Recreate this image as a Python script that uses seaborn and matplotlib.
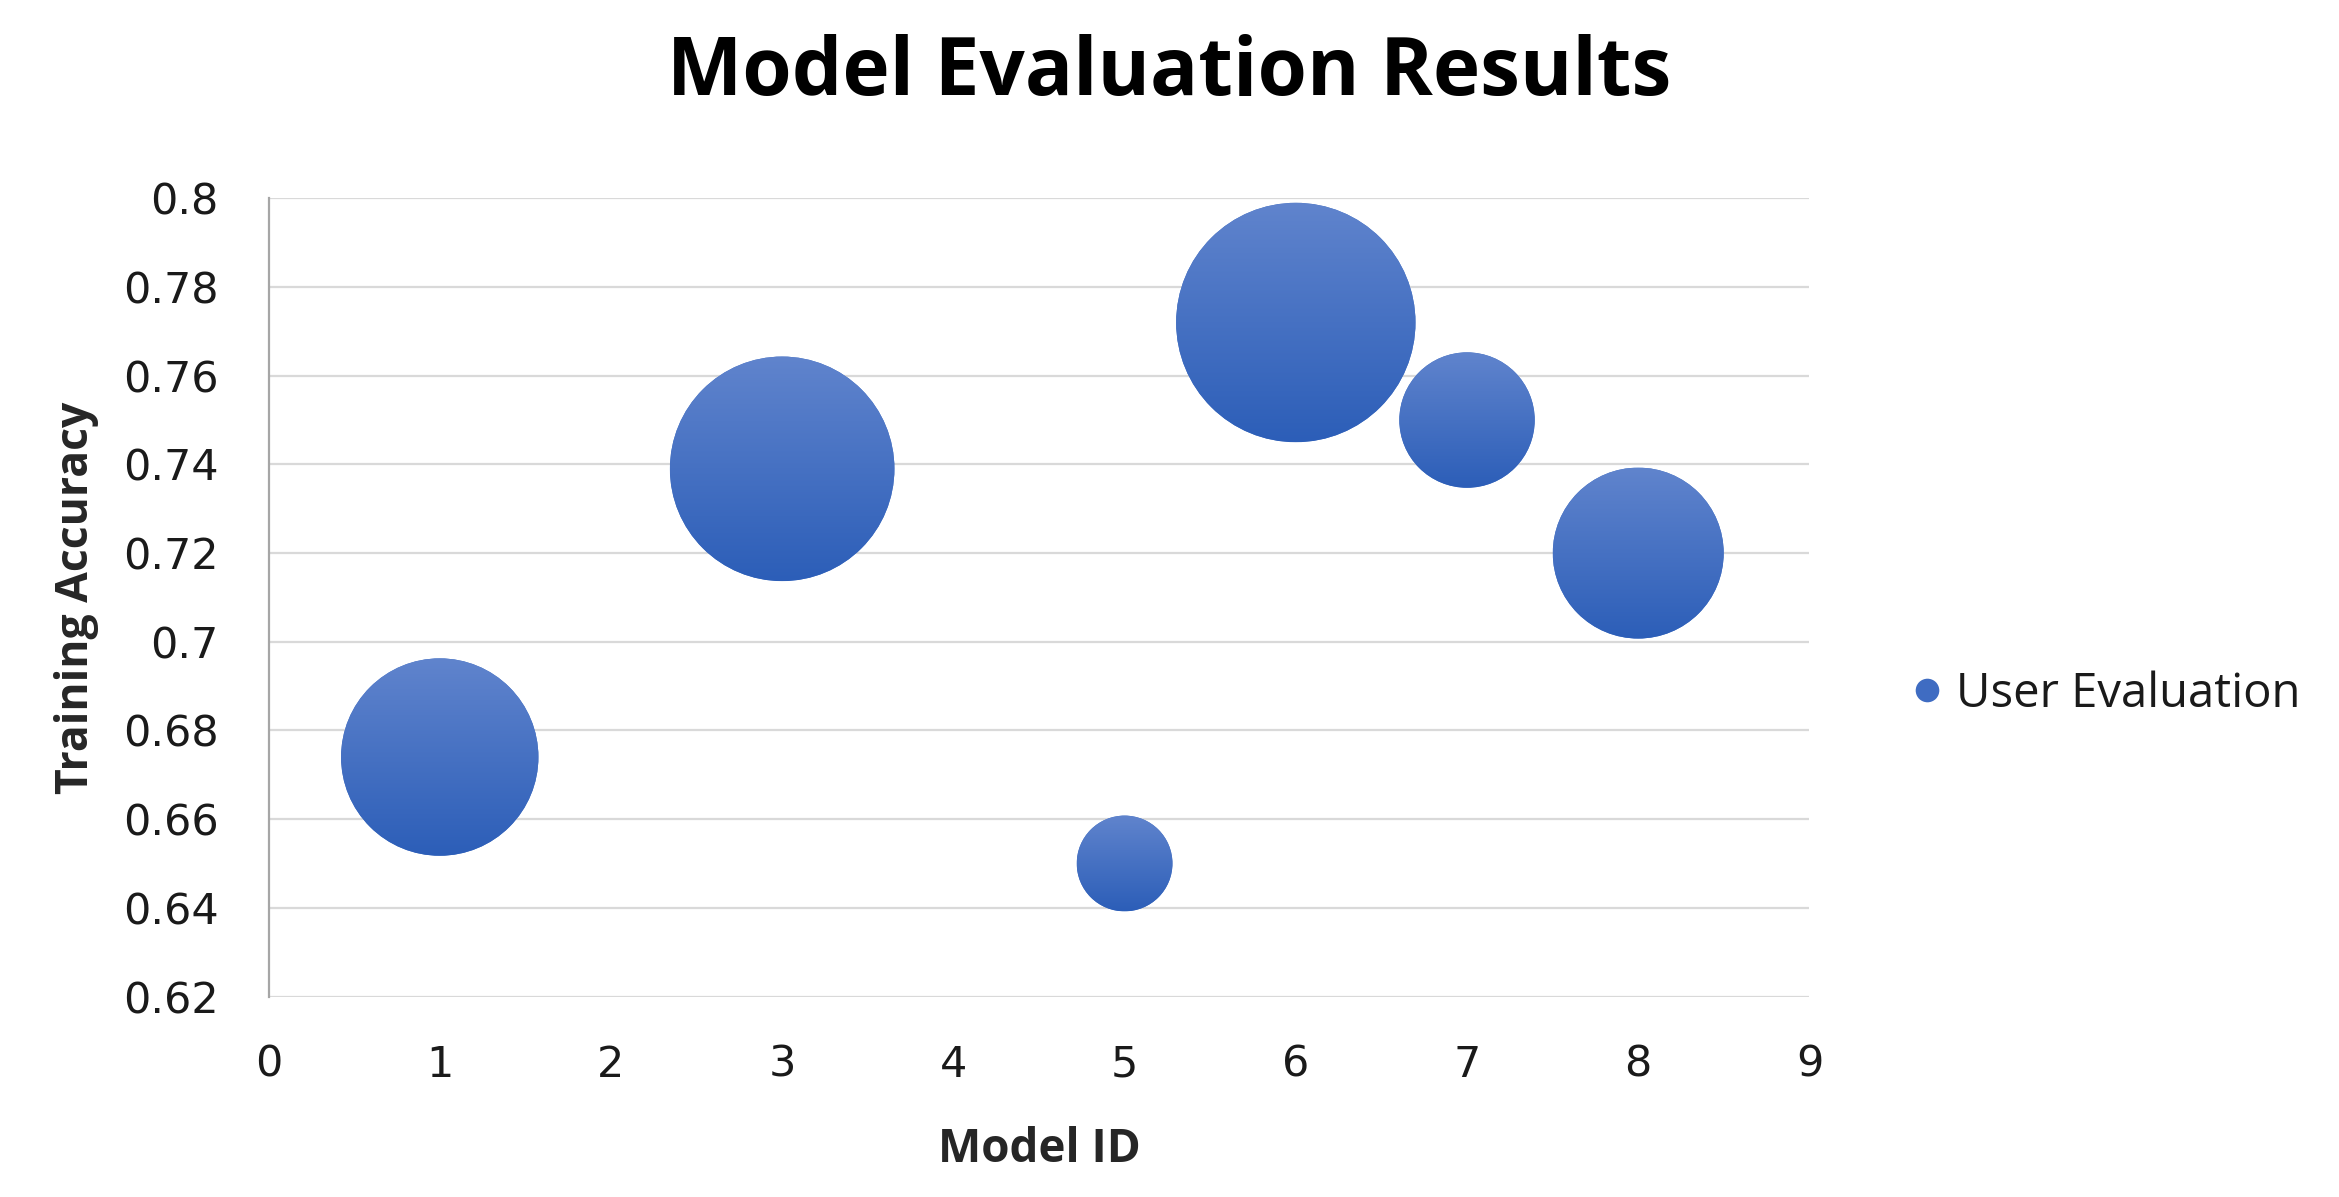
import numpy as np
import pandas as pd
import matplotlib
matplotlib.use("Agg")
import matplotlib.pyplot as plt
import seaborn as sns
from matplotlib.patches import Circle
from matplotlib.transforms import IdentityTransform
from matplotlib.lines import Line2D

# ---- data ----
model_id = [1, 3, 5, 6, 7, 8]
training_accuracy = [0.674, 0.739, 0.650, 0.772, 0.750, 0.720]
user_evaluation = [68, 88, 16, 100, 32, 51]   # bubble size (area)
x_ticks = [0, 1, 2, 3, 4, 5, 6, 7, 8, 9]
y_ticks = [0.62, 0.64, 0.66, 0.68, 0.70, 0.72, 0.74, 0.76, 0.78, 0.80]
y_tick_labels = ["0.62", "0.64", "0.66", "0.68", "0.7", "0.72", "0.74", "0.76", "0.78", "0.8"]

df = pd.DataFrame({"Model ID": model_id, "Training Accuracy": training_accuracy,
                   "User Evaluation": user_evaluation})

sns.set_theme(style="white")
plt.rcParams['font.family'] = ['DejaVu Sans']

DPI = 100
fig = plt.figure(figsize=(23.39, 11.97), dpi=DPI)
ax = fig.add_axes([0.1148, 0.1675, 0.7736 - 0.1148, 0.8343 - 0.1675])

MAX_AREA = 29700
sns.scatterplot(data=df, x="Model ID", y="Training Accuracy", size="User Evaluation",
                sizes=(0, MAX_AREA), size_norm=(0, 100), color="#4472C4",
                edgecolor="none", linewidth=0, legend=False, ax=ax, zorder=3)

ax.set_xlim(0, 9)
ax.set_ylim(0.62, 0.80)
ax.set_xticks(x_ticks)
ax.set_yticks(y_ticks)
ax.set_yticklabels(y_tick_labels)
ax.tick_params(axis='both', length=0, labelsize=31, labelcolor="#1a1a1a")
ax.tick_params(axis='y', pad=36)
ax.tick_params(axis='x', pad=34)
for lab in ax.get_xticklabels() + ax.get_yticklabels():
    lab.set_family("DejaVu Sans")
ax.yaxis.grid(True, color="#D9D9D9", linewidth=1.6, zorder=0)
ax.xaxis.grid(False)
for s in ["top", "right", "bottom"]:
    ax.spines[s].set_visible(False)
ax.spines["left"].set_color("#A6A6A6")
ax.spines["left"].set_linewidth(1.6)
ax.set_axisbelow(True)

ax.set_xlabel("Model ID", fontsize=33, fontweight="bold", family="Open Sans",
              color="#262626", labelpad=29)
ax.set_ylabel("Training Accuracy", fontsize=32, fontweight="bold", family="Open Sans",
              color="#262626", labelpad=17)
fig.suptitle("Model Evaluation Results", fontsize=57.5, fontweight="bold",
             family="Open Sans", color="black", y=0.972)

# gradient overlay on each bubble
fig.canvas.draw()
coll = ax.collections[0]
areas = coll.get_sizes()
grad = np.linspace(0, 1, 256).reshape(-1, 1)
top = np.array([0x60, 0x84, 0xCD]) / 255
bot = np.array([0x2C, 0x5E, 0xB8]) / 255
img = top[None, None, :] * (1 - grad[:, :, None]) + bot[None, None, :] * grad[:, :, None]
inv = ax.transData.inverted()
for xv, yv, a in zip(df["Model ID"], df["Training Accuracy"], areas):
    cx, cy = ax.transData.transform((xv, yv))
    r = np.sqrt(a) / 2 * DPI / 72.0
    (x0, y0) = inv.transform((cx - r, cy - r))
    (x1, y1) = inv.transform((cx + r, cy + r))
    im = ax.imshow(img, extent=(x0, x1, y0, y1), aspect='auto', origin='upper',
                   zorder=4, interpolation='bilinear')
    clip = Circle((cx, cy), r, transform=IdentityTransform())
    im.set_clip_path(clip)
ax.set_xlim(0, 9)
ax.set_ylim(0.62, 0.80)

handle = Line2D([], [], marker='o', linestyle='none', markersize=17,
                markerfacecolor="#3F6CC2", markeredgewidth=0)
leg = fig.legend([handle], ["User Evaluation"], loc="center left",
                 bbox_to_anchor=(0.818, 0.42), frameon=False, handletextpad=0.3,
                 handlelength=0.6, borderpad=0.0, borderaxespad=0.0,
                 prop={"family": "Open Sans", "size": 34})
for t in leg.get_texts():
    t.set_color("#1a1a1a")

fig.savefig("out.png", dpi=DPI)
